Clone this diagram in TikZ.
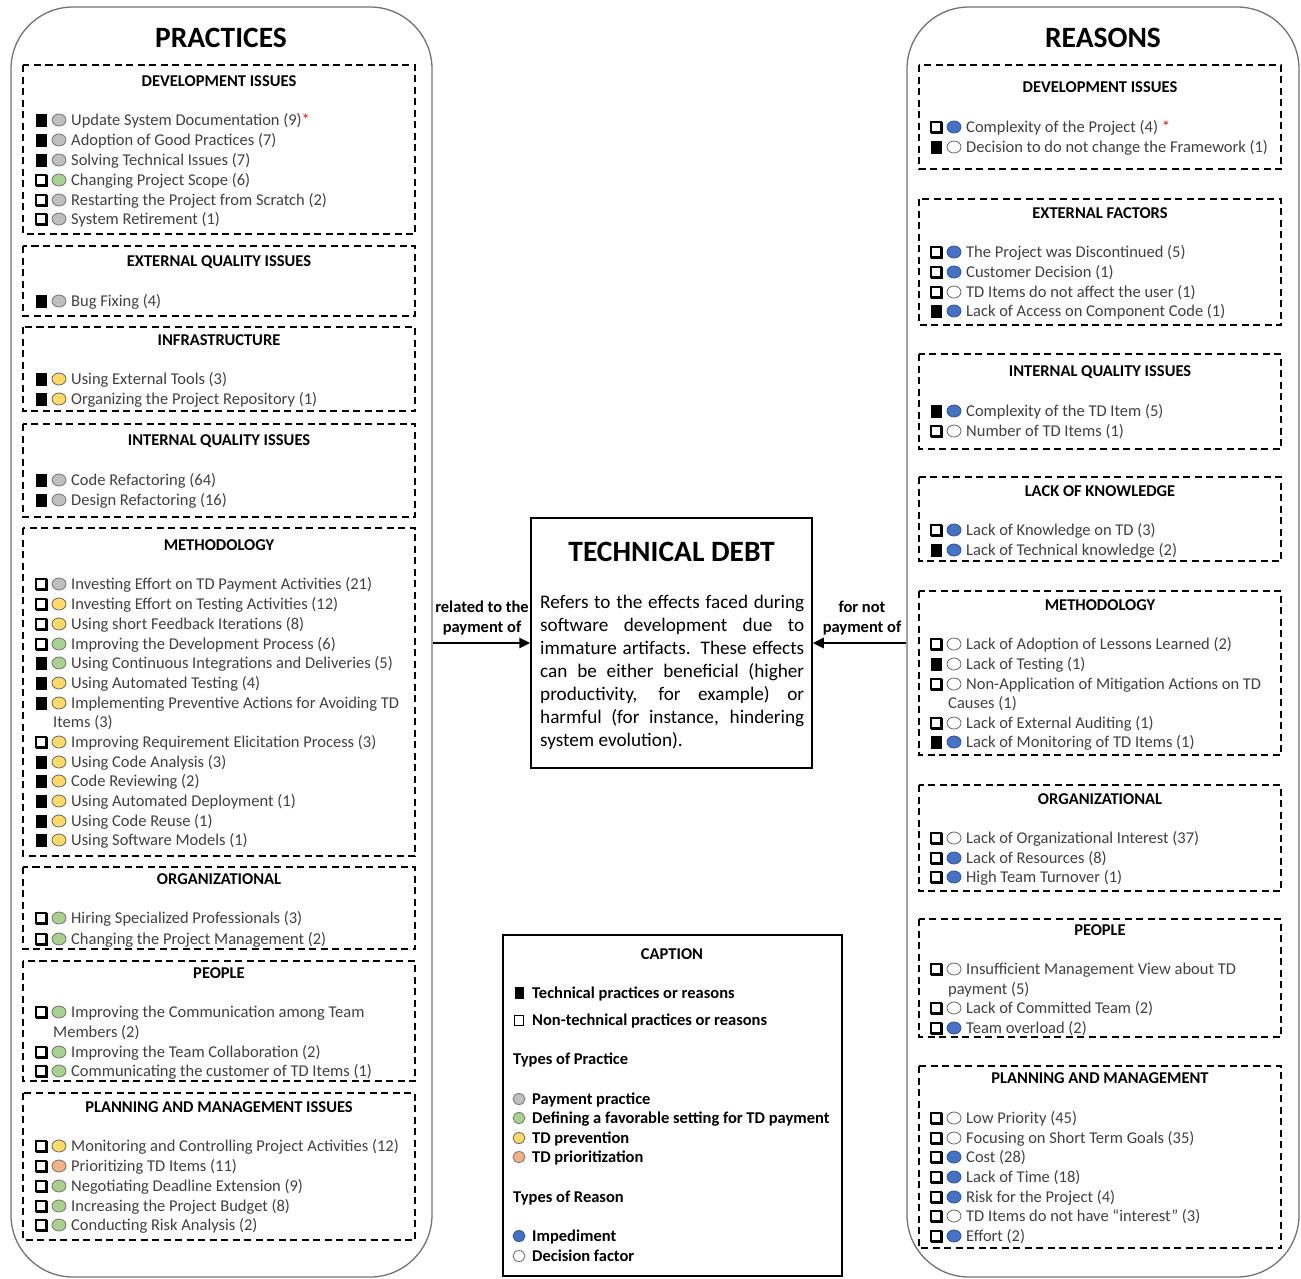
\documentclass[tikz,border=0pt]{standalone}
\usepackage{fontspec}
\setmainfont{Carlito}
\usetikzlibrary{arrows.meta,shapes.geometric}

\definecolor{paygray}{HTML}{BFBFBF}
\definecolor{setgreen}{HTML}{A9D18E}
\definecolor{prevyellow}{HTML}{FFD966}
\definecolor{prioorange}{HTML}{F4B183}
\definecolor{impblue}{HTML}{4472C4}
\definecolor{impblueline}{HTML}{2F528F}

\tikzset{
  panel/.style={draw=black!55, line width=1.3pt, rounded corners=62pt, inner sep=0},
  paneltitle/.style={font=\fontsize{29.5}{34}\selectfont\bfseries},
  grp/.style={draw=black, line width=1.7pt, dash pattern=on 7pt off 4.5pt},
  grptitle/.style={font=\fontsize{16.5}{20}\selectfont\bfseries},
  tech/.style={draw=black, fill=black, minimum width=10.5pt, minimum height=11.5pt, inner sep=0},
  nontech/.style={draw=black, fill=white, line width=1.4pt, minimum size=10pt, inner sep=0,
    preaction={draw=black, line width=1.4pt, transform canvas={shift={(0.9pt,-0.9pt)}}}},
  tdot/.style={ellipse, line width=0.8pt, minimum width=14pt, minimum height=12pt, inner sep=0},
  pay/.style={fill=paygray, draw=black!55},
  setting/.style={fill=setgreen, draw=black!55},
  prevent/.style={fill=prevyellow, draw=black!60},
  prio/.style={fill=prioorange, draw=black!55},
  imped/.style={fill=impblue, draw=impblueline},
  decide/.style={fill=white, draw=black!60},
  itemtext/.style={anchor=west, inner sep=0, text height=10.5pt, text depth=0pt,
    text=black!75, font=\fontsize{16.5}{20}\selectfont},
  link/.style={line width=2.6pt, -{Triangle[length=11pt,width=10pt]}},
  linklabel/.style={align=center, font=\fontsize{16.5}{20}\selectfont\bfseries},
  captext/.style={anchor=west, inner sep=0, text height=10.5pt, text depth=0pt,
    font=\fontsize{16.5}{20}\selectfont\bfseries},
}

% one entry: name, x of the square, y, square style, dot style, text
\newcommand{\tditem}[6]{%
  \node[#4] (#1sq) at (#2,#3) {};
  \node[tdot,#5] (#1dot) at (#2+18,#3) {};
  \node[itemtext] (#1) at (#2+30,#3) {#6};
}
% second line of a long entry
\newcommand{\tdmore}[4]{\node[itemtext] (#1) at (#2+12,#3) {#4};}
% dashed group: name, x1, y1, x2, y2, title y, title
\newcommand{\tdgroup}[7]{%
  \draw[grp] (#2,#3) rectangle (#4,#5);
  \node[grptitle] (#1) at ({(#2+#4)/2},#6) {#7};
}
% caption line: name, y, marker style, text
\newcommand{\capline}[4]{%
  \node[#3] (#1m) at (519,#2) {};
  \node[captext] (#1) at (532,#2) {#4};
}

\begin{document}
\begin{tikzpicture}[x=1pt, y=-1pt]
    \useasboundingbox (0,0) rectangle (1301,1278);

    % Side panels
    \node[panel, minimum width=421pt, minimum height=1270pt] (prac) at (221.5,642) {};
    \node[panel, minimum width=392pt, minimum height=1270pt] (reas) at (1103,642) {};
    \node[paneltitle] (practitle) at (221,38) {PRACTICES};
    \node[paneltitle] (reastitle) at (1103,38) {REASONS};

    % Practices
    \tdgroup{pdev}{23}{65}{415}{234}{81}{DEVELOPMENT ISSUES}
    \tditem{p1}{41}{120}{tech}{pay}{Update System Documentation (9)\textcolor{red}{*}}
    \tditem{p2}{41}{140}{tech}{pay}{Adoption of Good Practices (7)}
    \tditem{p3}{41}{160}{tech}{pay}{Solving Technical Issues (7)}
    \tditem{p4}{41}{180}{nontech}{setting}{Changing Project Scope (6)}
    \tditem{p5}{41}{200}{nontech}{pay}{Restarting the Project from Scratch (2)}
    \tditem{p6}{41}{219}{nontech}{pay}{System Retirement (1)}

    \tdgroup{pext}{23}{246}{415}{316}{262}{EXTERNAL QUALITY ISSUES}
    \tditem{p7}{41}{301}{tech}{pay}{Bug Fixing (4)}

    \tdgroup{pinf}{23}{327}{415}{411}{340}{INFRASTRUCTURE}
    \tditem{p8}{41}{379}{tech}{prevent}{Using External Tools (3)}
    \tditem{p9}{41}{399}{tech}{prevent}{Organizing the Project Repository (1)}

    \tdgroup{pint}{23}{424}{415}{517}{441}{INTERNAL QUALITY ISSUES}
    \tditem{p10}{41}{480}{tech}{pay}{Code Refactoring (64)}
    \tditem{p11}{41}{500}{tech}{pay}{Design Refactoring (16)}

    \tdgroup{pmet}{23}{528}{415}{856}{545}{METHODOLOGY}
    \tditem{p12}{41}{584}{nontech}{pay}{Investing Effort on TD Payment Activities (21)}
    \tditem{p13}{41}{604}{nontech}{prevent}{Investing Effort on Testing Activities (12)}
    \tditem{p14}{41}{624}{nontech}{prevent}{Using short Feedback Iterations (8)}
    \tditem{p15}{41}{644}{nontech}{setting}{Improving the Development Process (6)}
    \tditem{p16}{41}{663}{tech}{setting}{Using Continuous Integrations and Deliveries (5)}
    \tditem{p17}{41}{683}{tech}{prevent}{Using Automated Testing (4)}
    \tditem{p18}{41}{703}{tech}{prevent}{Implementing Preventive Actions for Avoiding TD}
    \tdmore{p18b}{41}{722}{Items (3)}
    \tditem{p19}{41}{742}{nontech}{prevent}{Improving Requirement Elicitation Process (3)}
    \tditem{p20}{41}{762}{tech}{prevent}{Using Code Analysis (3)}
    \tditem{p21}{41}{781}{tech}{prevent}{Code Reviewing (2)}
    \tditem{p22}{41}{801}{tech}{prevent}{Using Automated Deployment (1)}
    \tditem{p23}{41}{821}{tech}{prevent}{Using Code Reuse (1)}
    \tditem{p24}{41}{840}{tech}{prevent}{Using Software Models (1)}

    \tdgroup{porg}{23}{867}{415}{949}{879}{ORGANIZATIONAL}
    \tditem{p25}{41}{918}{nontech}{setting}{Hiring Specialized Professionals (3)}
    \tditem{p26}{41}{939}{nontech}{setting}{Changing the Project Management (2)}

    \tdgroup{ppeo}{23}{961}{415}{1081}{973}{PEOPLE}
    \tditem{p27}{41}{1012}{nontech}{setting}{Improving the Communication among Team}
    \tdmore{p27b}{41}{1032}{Members (2)}
    \tditem{p28}{41}{1052}{nontech}{setting}{Improving the Team Collaboration (2)}
    \tditem{p29}{41}{1071}{nontech}{setting}{Communicating the customer of TD Items (1)}

    \tdgroup{ppla}{23}{1093}{415}{1240}{1107}{PLANNING AND MANAGEMENT ISSUES}
    \tditem{p30}{41}{1146}{nontech}{prevent}{Monitoring and Controlling Project Activities (12)}
    \tditem{p31}{41}{1166}{nontech}{prio}{Prioritizing TD Items (11)}
    \tditem{p32}{41}{1186}{nontech}{setting}{Negotiating Deadline Extension (9)}
    \tditem{p33}{41}{1206}{nontech}{setting}{Increasing the Project Budget (8)}
    \tditem{p34}{41}{1225}{nontech}{setting}{Conducting Risk Analysis (2)}

    % Reasons
    \tdgroup{rdev}{919}{65}{1281}{169}{87}{DEVELOPMENT ISSUES}
    \tditem{r1}{936}{127}{nontech}{imped}{Complexity of the Project (4) \textcolor{red}{*}}
    \tditem{r2}{936}{147}{tech}{decide}{Decision to do not change the Framework (1)}

    \tdgroup{rext}{919}{199}{1281}{325}{213}{EXTERNAL FACTORS}
    \tditem{r3}{936}{252}{nontech}{imped}{The Project was Discontinued (5)}
    \tditem{r4}{936}{272}{nontech}{imped}{Customer Decision (1)}
    \tditem{r5}{936}{292}{nontech}{decide}{TD Items do not affect the user (1)}
    \tditem{r6}{936}{311}{tech}{imped}{Lack of Access on Component Code (1)}

    \tdgroup{rint}{919}{354}{1281}{449}{372}{INTERNAL QUALITY ISSUES}
    \tditem{r7}{936}{411}{tech}{imped}{Complexity of the TD Item (5)}
    \tditem{r8}{936}{431}{nontech}{decide}{Number of TD Items (1)}

    \tdgroup{rkno}{919}{477}{1281}{561}{491}{LACK OF KNOWLEDGE}
    \tditem{r9}{936}{530}{nontech}{imped}{Lack of Knowledge on TD (3)}
    \tditem{r10}{936}{550}{tech}{imped}{Lack of Technical knowledge (2)}

    \tdgroup{rmet}{919}{591}{1281}{755}{605}{METHODOLOGY}
    \tditem{r11}{936}{644}{nontech}{decide}{Lack of Adoption of Lessons Learned (2)}
    \tditem{r12}{936}{664}{tech}{decide}{Lack of Testing (1)}
    \tditem{r13}{936}{684}{nontech}{decide}{Non-Application of Mitigation Actions on TD}
    \tdmore{r13b}{936}{703}{Causes (1)}
    \tditem{r14}{936}{723}{nontech}{decide}{Lack of External Auditing (1)}
    \tditem{r15}{936}{742}{tech}{imped}{Lack of Monitoring of TD Items (1)}

    \tdgroup{rorg}{919}{785}{1281}{891}{799}{ORGANIZATIONAL}
    \tditem{r16}{936}{838}{nontech}{decide}{Lack of Organizational Interest (37)}
    \tditem{r17}{936}{858}{nontech}{imped}{Lack of Resources (8)}
    \tditem{r18}{936}{877}{nontech}{imped}{High Team Turnover (1)}

    \tdgroup{rpeo}{919}{919}{1281}{1037}{930}{PEOPLE}
    \tditem{r19}{936}{969}{nontech}{decide}{Insufficient Management View about TD}
    \tdmore{r19b}{936}{989}{payment (5)}
    \tditem{r20}{936}{1008}{nontech}{decide}{Lack of Committed Team (2)}
    \tditem{r21}{936}{1028}{nontech}{imped}{Team overload (2)}

    \tdgroup{rpla}{919}{1066}{1281}{1248}{1078}{PLANNING AND MANAGEMENT}
    \tditem{r22}{936}{1118}{nontech}{decide}{Low Priority (45)}
    \tditem{r23}{936}{1138}{nontech}{decide}{Focusing on Short Term Goals (35)}
    \tditem{r24}{936}{1157}{nontech}{imped}{Cost (28)}
    \tditem{r25}{936}{1177}{nontech}{imped}{Lack of Time (18)}
    \tditem{r26}{936}{1197}{nontech}{imped}{Risk for the Project (4)}
    \tditem{r27}{936}{1216}{nontech}{decide}{TD Items do not have “interest” (3)}
    \tditem{r28}{936}{1236}{nontech}{imped}{Effort (2)}

    % Technical debt
    \node[draw, line width=1.5pt, minimum width=281pt, minimum height=250pt] (td) at (671.5,643) {};
    \node[font=\fontsize{29.5}{34}\selectfont\bfseries] (tdtitle) at (671.5,552) {TECHNICAL DEBT};
    \node[anchor=north west, inner sep=0, text width=264pt, align=justify,
          font=\fontsize{19.2}{23}\selectfont] (tdbody) at (540,595)
        {Refers to the effects faced during\linebreak software development due to\linebreak
         immature artifacts. These effects\linebreak can be either beneficial (higher\linebreak
         productivity, for example) or\linebreak harmful (for instance, hindering\linebreak
         system evolution).};

    % Connectors
    \draw[link] (prac.east |- td.west) -- (td.west);
    \draw[link] (reas.west |- td.east) -- (td.east);
    \node[linklabel] (rellabel) at (482,618) {related to the\\payment of};
    \node[linklabel] (notlabel) at (862,618) {for not\\payment of};

    % Caption
    \node[draw, line width=2pt, minimum width=339pt, minimum height=341pt] (cap) at (672.5,1105.5) {};
    \node[font=\fontsize{16.5}{20}\selectfont\bfseries] (captitle) at (672,954) {CAPTION};
    \capline{ctech}{993}{tech, minimum width=8pt, minimum height=11pt}{Technical practices or reasons}
    \capline{cnon}{1020}{draw=black, line width=0.7pt, minimum width=8.5pt, minimum height=10pt, inner sep=0}{Non-technical practices or reasons}
    \node[captext] (cprac) at (513,1059) {Types of Practice};
    \capline{cpay}{1099}{tdot, pay, minimum width=12pt, minimum height=11pt}{Payment practice}
    \capline{cset}{1118}{tdot, setting, minimum width=12pt, minimum height=11pt}{Defining a favorable setting for TD payment}
    \capline{cpre}{1138}{tdot, prevent, minimum width=12pt, minimum height=11pt}{TD prevention}
    \capline{cpri}{1157}{tdot, prio, minimum width=12pt, minimum height=11pt}{TD prioritization}
    \node[captext] (creas) at (513,1197) {Types of Reason};
    \capline{cimp}{1236}{tdot, imped, minimum width=12pt, minimum height=11pt}{Impediment}
    \capline{cdec}{1256}{tdot, decide, minimum width=12pt, minimum height=11pt}{Decision factor}
\end{tikzpicture}
\end{document}
